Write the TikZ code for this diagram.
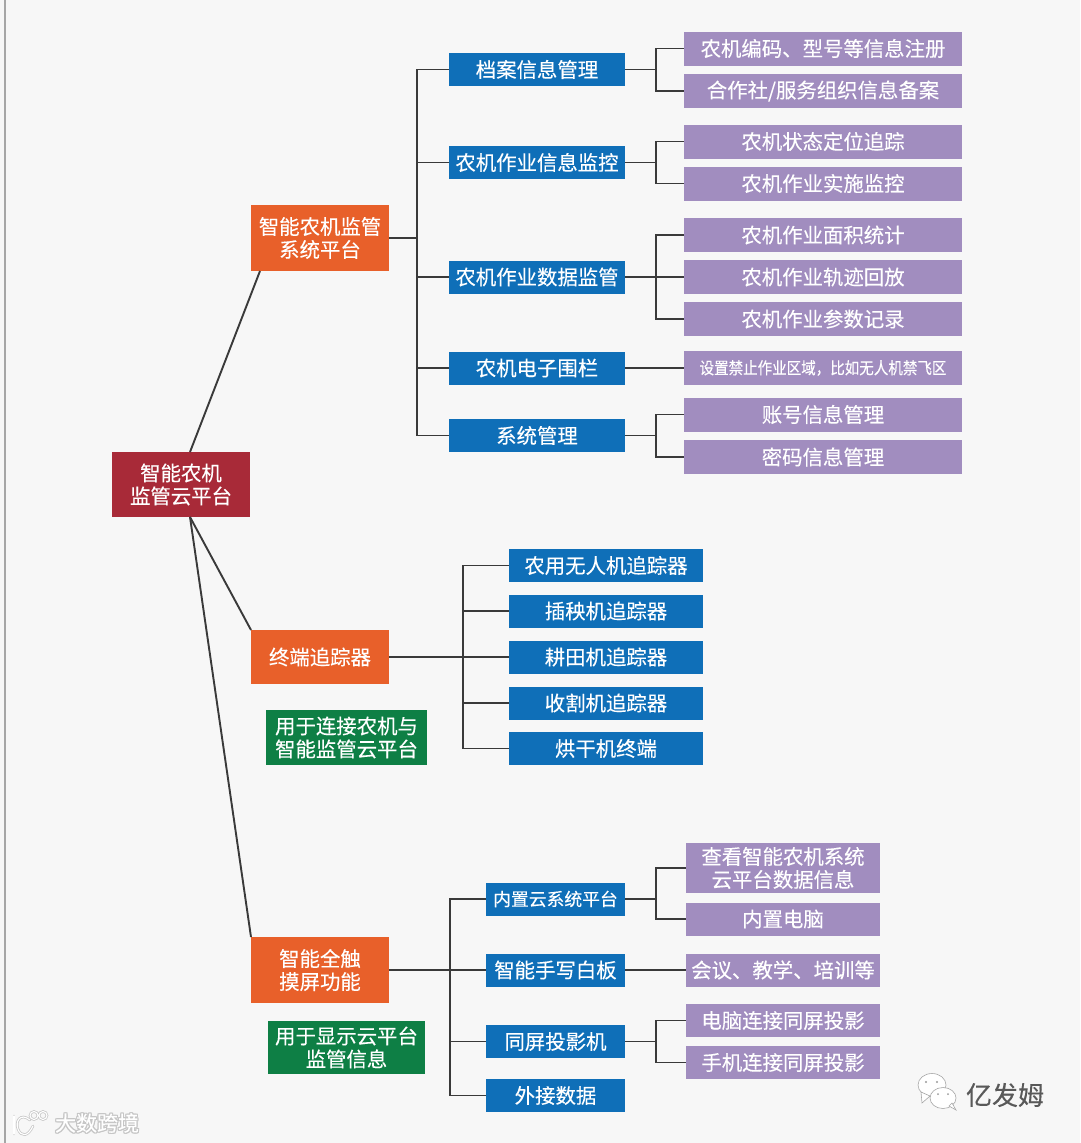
\documentclass[tikz,border=0pt]{standalone}
\usepackage{fontspec}
\setmainfont[FakeBold=0.25]{Noto Sans CJK SC}
\definecolor{bgc}{HTML}{F7F7F7}
\definecolor{rootc}{HTML}{A82A38}
\definecolor{orangec}{HTML}{E8602A}
\definecolor{greenc}{HTML}{0E7F45}
\definecolor{bluec}{HTML}{0F6FB8}
\definecolor{purplec}{HTML}{A18DBF}
\definecolor{linec}{HTML}{3A3A3A}
\tikzset{
  box/.style={inner sep=0pt,outer sep=0pt,align=center,text=white,font=\fontsize{20.4}{23}\selectfont},
  rootbox/.style={box,fill=rootc,minimum width=138pt,minimum height=65pt},
  orangebox/.style={box,fill=orangec,minimum width=138pt},
  greenbox/.style={box,fill=greenc},
  bluebox/.style={box,fill=bluec,minimum width=176pt,minimum height=33pt},
  trackbox/.style={box,fill=bluec,minimum width=194pt,minimum height=33pt},
  smallblue/.style={box,fill=bluec,minimum width=139pt,minimum height=33pt},
  purplebox/.style={box,fill=purplec,minimum width=278pt,minimum height=34pt},
  lilac/.style={box,fill=purplec,minimum width=194pt,minimum height=33pt},
  conn/.style={draw=linec,line width=1.9pt},
  glow/.style={draw=gray!45,line width=2.6pt,line cap=round},
  glowcore/.style={draw=white,line width=1.1pt,line cap=round},
}
\begin{document}
\begin{tikzpicture}[x=1pt,y=-1pt]
\useasboundingbox (0,0) rectangle (1080,1143);
\fill[bgc] (0,0) rectangle (1080,1143);
\fill[gray!70] (3.5,0) rectangle (5.5,1143);

% main nodes
\node[rootbox] (root) at (181,484.5) {智能农机\\监管云平台};
\node[orangebox,minimum height=66pt] (a) at (320,238) {智能农机监管\\系统平台};
\node[orangebox,minimum height=54pt] (b) at (320,657) {终端追踪器};
\node[orangebox,minimum height=66pt] (c) at (320,970) {智能全触\\摸屏功能};
\node[greenbox,minimum width=161pt,minimum height=55pt] (g1) at (346.5,737.5) {用于连接农机与\\智能监管云平台};
\node[greenbox,minimum width=157pt,minimum height=53pt] (g2) at (346.5,1047.5) {用于显示云平台\\监管信息};

% branch A
\node[bluebox] (a1) at (537,69.5) {档案信息管理};
\node[bluebox] (a2) at (537,162.5) {农机作业信息监控};
\node[bluebox] (a3) at (537,277) {农机作业数据监管};
\node[bluebox] (a4) at (537,368) {农机电子围栏};
\node[bluebox] (a5) at (537,435.5) {系统管理};
\node[purplebox] (p1) at (823,48.5) {农机编码、型号等信息注册};
\node[purplebox] (p2) at (823,91) {合作社/服务组织信息备案};
\node[purplebox] (p3) at (823,141.5) {农机状态定位追踪};
\node[purplebox] (p4) at (823,183.5) {农机作业实施监控};
\node[purplebox] (p5) at (823,235) {农机作业面积统计};
\node[purplebox] (p6) at (823,277) {农机作业轨迹回放};
\node[purplebox] (p7) at (823,319) {农机作业参数记录};
\node[purplebox,font=\fontsize{16.5}{19}\selectfont] (p8) at (823,368) {\scalebox{0.88}[1]{设置禁止作业区域，比如无人机禁飞区}};
\node[purplebox] (p9) at (823,414.5) {账号信息管理};
\node[purplebox] (p10) at (823,457) {密码信息管理};

% branch B
\node[trackbox] (t1) at (606,565.5) {农用无人机追踪器};
\node[trackbox] (t2) at (606,611) {插秧机追踪器};
\node[trackbox] (t3) at (606,657) {耕田机追踪器};
\node[trackbox] (t4) at (606,703) {收割机追踪器};
\node[trackbox] (t5) at (606,748.5) {烘干机终端};

% branch C
\node[smallblue,font=\fontsize{17.8}{21}\selectfont] (c1) at (555.5,899) {内置云系统平台};
\node[smallblue] (c2) at (555.5,970) {智能手写白板};
\node[smallblue] (c3) at (555.5,1041.5) {同屏投影机};
\node[smallblue] (c4) at (555.5,1095.5) {外接数据};
\node[lilac,minimum height=50pt] (l1) at (783,868) {查看智能农机系统\\云平台数据信息};
\node[lilac] (l2) at (783,919) {内置电脑};
\node[lilac] (l3) at (783,970) {会议、教学、培训等};
\node[lilac] (l4) at (783,1020.5) {电脑连接同屏投影};
\node[lilac] (l5) at (783,1062.5) {手机连接同屏投影};

% free ends on the root and on box A
\coordinate (rtop) at (190,452);
\coordinate (rbot) at (190,517);
\coordinate (atip) at (260,271);

\draw[conn] (rtop) -- (atip);
\draw[conn] (rbot) -- (b.north west);
\draw[conn] (rbot) -- (c.north west);

% trunks
\coordinate (ja) at (417,238);
\coordinate (jb) at (463,657);
\coordinate (jc) at (450,970);
\draw[conn] (a.east) -- (ja);
\foreach \n in {a1,a2,a3,a4,a5} \draw[conn] (ja) |- (\n.west);
\draw[conn] (b.east) -- (t3.west);
\foreach \n in {t1,t2,t4,t5} \draw[conn] (jb) |- (\n.west);
\draw[conn] (c.east) -- (c2.west);
\foreach \n in {c1,c3,c4} \draw[conn] (jc) |- (\n.west);

% second-level forks
\coordinate (f1) at (656,69.5);
\coordinate (f2) at (656,162.5);
\coordinate (f3) at (656,277);
\coordinate (f5) at (656,435.5);
\coordinate (fc1) at (656,899);
\coordinate (fc3) at (656,1041.5);
\draw[conn] (a1.east) -- (f1);
\draw[conn] (f1) |- (p1.west);
\draw[conn] (f1) |- (p2.west);
\draw[conn] (a2.east) -- (f2);
\draw[conn] (f2) |- (p3.west);
\draw[conn] (f2) |- (p4.west);
\draw[conn] (a3.east) -- (p6.west);
\draw[conn] (f3) |- (p5.west);
\draw[conn] (f3) |- (p7.west);
\draw[conn] (a4.east) -- (p8.west);
\draw[conn] (a5.east) -- (f5);
\draw[conn] (f5) |- (p9.west);
\draw[conn] (f5) |- (p10.west);
\draw[conn] (c1.east) -- (fc1);
\draw[conn] (fc1) |- (l1.west);
\draw[conn] (fc1) |- (l2.west);
\draw[conn] (c2.east) -- (l3.west);
\draw[conn] (c3.east) -- (fc3);
\draw[conn] (fc3) |- (l4.west);
\draw[conn] (fc3) |- (l5.west);

% watermarks
\begin{scope}[draw=gray!70,fill=white,line width=.6pt]
  \filldraw (932,1085) ellipse (14pt and 11.5pt);
  \filldraw (921,1092) -- (922,1103) -- (930,1096) -- cycle;
  \filldraw (943,1098) ellipse (13pt and 10.5pt);
  \filldraw (949,1106) -- (956,1110) -- (952,1103) -- cycle;
\end{scope}
\fill[gray!80] (926,1082) circle (1.2pt) (937,1082) circle (1.2pt) (938,1094) circle (1pt) (948,1094) circle (1pt);
\node[text=black!65,font=\fontsize{26}{30}\selectfont,inner sep=0pt] (wm) at (1005,1095) {亿发姆};

\foreach \ox/\oy in {-1/0,1/0,0/-1,0/1,1/1,-1/-1,1/-1,-1/1}
  \node[text=gray!45,font=\fontsize{21}{24}\selectfont,inner sep=0pt] at (97+\ox,1123+\oy) {大数跨境};
\node[text=white,font=\fontsize{21}{24}\selectfont,inner sep=0pt] (wt) at (97,1123) {大数跨境};
\foreach \st in {glow,glowcore}{
  \draw[\st] (14,1116) -- (14,1134);
  \draw[\st] (30,1120) .. controls (20,1112) and (15,1122) .. (18,1129) .. controls (21,1137) and (28,1137) .. (33,1126);
  \draw[\st] (34,1115.5) circle (4pt) (43,1115.5) circle (4pt);
}
\end{tikzpicture}
\end{document}
